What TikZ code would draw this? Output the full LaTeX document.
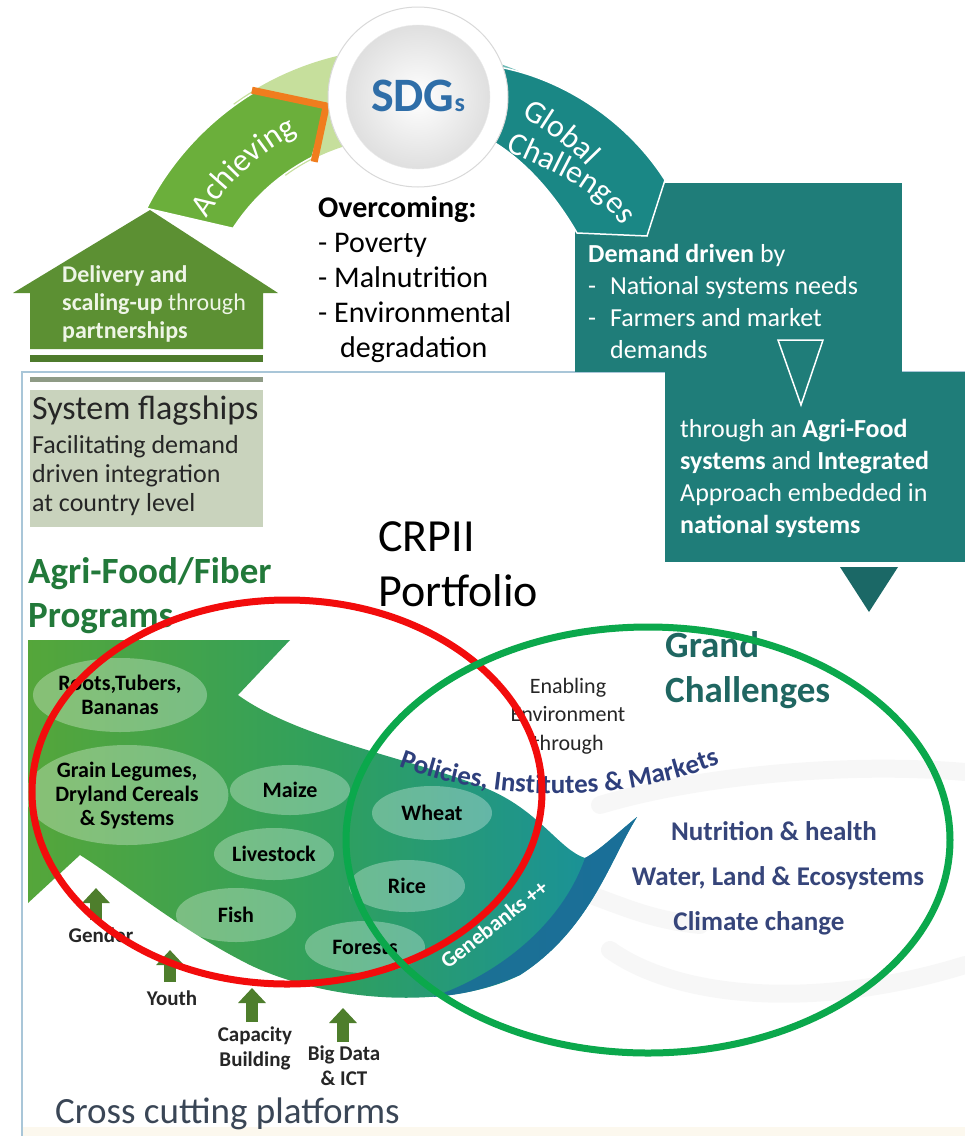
\documentclass[tikz,border=0pt]{standalone}
\usepackage{fontspec}
\setmainfont{Carlito}
\usepackage{tikz}
\tikzset{>=latex}
\usetikzlibrary{calc,positioning,shapes.geometric,arrows.meta,decorations.text}

\definecolor{houseGreen}{HTML}{5C9033}
\definecolor{barGreen}{HTML}{4E7B2C}
\definecolor{achGreen}{HTML}{6BAF3B}
\definecolor{paleGreen}{HTML}{C6DF9C}
\definecolor{chevOrange}{HTML}{F07D1E}
\definecolor{paleTeal}{HTML}{6DBAB6}
\definecolor{globTeal}{HTML}{1A8785}
\definecolor{boxTeal}{HTML}{1F7D79}
\definecolor{triTeal}{HTML}{1B6866}
\definecolor{sdgBlue}{HTML}{2F6EA8}
\definecolor{flagGrey}{HTML}{C9D3BD}
\definecolor{flagBar}{HTML}{8F9B86}
\definecolor{frameBlue}{HTML}{A9C6D8}
\definecolor{agriGreen}{HTML}{22793A}
\definecolor{grandTeal}{HTML}{1F6661}
\definecolor{navyText}{HTML}{2E3F7C}
\definecolor{gcText}{HTML}{36457A}
\definecolor{crossText}{HTML}{3A4656}
\definecolor{fishGreen}{HTML}{55A63A}
\definecolor{fishMid}{HTML}{2FA05E}
\definecolor{fishTeal}{HTML}{168FA2}
\definecolor{geneBlue}{HTML}{1B6C98}
\definecolor{liftGreen}{HTML}{4E7E2C}
\definecolor{ringRed}{HTML}{F20C0C}
\definecolor{ringGreen}{HTML}{0BA84C}
\definecolor{paleBeige}{HTML}{FCF8EE}
\definecolor{paleWhite}{HTML}{EEF5E6}

\newcommand{\fsz}[2]{\fontsize{#1}{#2}\selectfont}

\begin{document}
\begin{tikzpicture}[x=1pt,y=-1pt,
    txt/.style={inner sep=0pt, align=left, anchor=north west},
    oval/.style={ellipse, fill=white, fill opacity=.3, text opacity=1, inner sep=0pt, align=center, font=\bfseries\fsz{22}{24}},
    lift/.style={line width=12pt, draw=liftGreen, -{Triangle[length=15pt,width=27pt]}},
    lifttext/.style={inner sep=0pt, align=center, font=\bfseries\fsz{21}{25}, text=black!85},
    ring/.style={line width=7pt},
    fold/.style={line width=18pt, draw=gray, draw opacity=.06, line cap=round},
    gc/.style={font=\bfseries\fsz{27}{27}, text=gcText, inner sep=0pt, anchor=base}]

    \fill[white] (0,0) rectangle (965,1136);
    \useasboundingbox (0,0) rectangle (965,1136);

    % frame of the portfolio panel
    \fill[paleBeige] (22,1127) rectangle (965,1136);
    \draw[frameBlue, line width=1.5pt] (22,1136) -- (22,372) -- (965,372);

    % demand boxes
    \fill[boxTeal] (575,183) rectangle (902,372);
    \fill[boxTeal] (665,372) rectangle (965,562);
    \draw[white, line width=1.5pt] (778,340) -- (823,340) -- (801,405) -- cycle;
    \fill[triTeal] (840,567) -- (898,567) -- (869,612) -- cycle;
    \node[txt, font=\fsz{26}{32}, text=white] (demand) at (588,244) {\textbf{Demand driven} by\\-\hspace{14pt}National systems needs\\-\hspace{14pt}Farmers and market\\\hspace*{22pt}demands};
    \node[txt, font=\fsz{26}{32}, text=white] (approach) at (680,419) {through an \textbf{Agri-Food}\\\textbf{systems} and \textbf{Integrated}\\Approach embedded in\\\textbf{national systems}};

    % ring round the SDGs
    \coordinate (c) at (405,340);
    \fill[paleGreen] ($(c)+(-126:292)$) arc[start angle=-126, end angle=-88, radius=292] -- ($(c)+(-88:203)$) arc[start angle=-88, end angle=-126, radius=203] -- cycle;
    \fill[paleTeal] ($(c)+(-92:292)$) arc[start angle=-92, end angle=-66, radius=292] -- ($(c)+(-66:208)$) arc[start angle=-66, end angle=-92, radius=208] -- cycle;
    \fill[globTeal, draw=white, line width=1.5pt] (504,68) .. controls (570,82) and (630,125) .. (665,180) -- (647,236) -- (577,233) .. controls (555,195) and (525,160) .. (490,140) .. controls (478,118) and (484,90) .. (504,68) -- cycle;

    % delivery arrow
    \fill[houseGreen] (13,293) -- (150,210) -- (278,293) -- (263,293) -- (263,349) -- (30,349) -- (30,293) -- cycle;
    \fill[barGreen] (30,355) rectangle (263,362);
    \node[txt, font=\fsz{24}{28}, text=paleWhite] (delivery) at (62,265) {\textbf{Delivery and}\\\textbf{scaling-up} through\\\textbf{partnerships}};

    \fill[achGreen, draw=white, line width=1.5pt] ($(c)+(-153:290)$) arc[start angle=-153, end angle=-121, radius=290] -- ($(c)+(-108.6:245)$) -- ($(c)+(-117:205)$) arc[start angle=-117, end angle=-147, radius=205] -- cycle;
    \draw[chevOrange, line width=7pt] ($(c)+(-121.5:293)$) -- ($(c)+(-108.6:247)$) -- ($(c)+(-117:200)$);

    \path[decorate, decoration={text along path, text align=center, text={|\fsz{32}{32}\color{white}|Achieving}}] ($(c)+(-152:233)$) arc[start angle=-152, end angle=-114, radius=233];
    \path[decorate, decoration={text along path, text align=center, text={|\fsz{32}{32}\color{white}|Global}}] ($(c)+(-68:252)$) arc[start angle=-68, end angle=-38, radius=252];
    \path[decorate, decoration={text along path, text align=center, text={|\fsz{32}{32}\color{white}|Challenges}}] (499,147) .. controls (544,169) and (603,188) .. (625,233);

    % SDG sphere
    \node[circle, minimum size=180pt, fill=white, draw=gray!30, line width=1pt] (sdgring) at (418,97) {};
    \shade[inner color=white, outer color=gray!25, draw=gray!15] (sdgring.center) circle[radius=72];
    \node[font=\bfseries\fsz{48}{48}, text=sdgBlue, inner sep=0pt, anchor=base] (sdg) at (418,111) {SDG{\fsz{26}{26}s}};

    \node[txt, font=\fsz{30}{35}] (overcome) at (318,196) {\textbf{Overcoming:}\\- Poverty\\- Malnutrition\\- Environmental\\\hspace*{22pt}degradation};

    % system flagships
    \fill[flagBar] (30,377) rectangle (263,382);
    \fill[flagGrey] (30,390) rectangle (263,527);
    \node[txt, font=\fsz{34}{34}, text=black!85] (flagtitle) at (32,396) {System flagships};
    \node[txt, font=\fsz{26}{29}, text=black!85] (flagtext) at (32,435) {Facilitating demand\\driven integration\\at country level};

    \node[txt, font=\fsz{46}{55}] (crp) at (378,521) {CRPII\\Portfolio};
    \node[txt, font=\bfseries\fsz{37}{44}, text=agriGreen] (agri) at (28,557) {Agri-Food/Fiber\\Programs};
    \node[txt, font=\bfseries\fsz{37}{45}, text=grandTeal] (grand) at (665,631) {Grand\\Challenges};

    % white fold on the right
    \draw[fold] (600,805) .. controls (700,775) and (850,762) .. (965,772);
    \draw[fold] (585,893) .. controls (620,905) and (650,920) .. (700,925);
    \draw[fold] (610,950) .. controls (680,1000) and (820,1010) .. (965,965);

    % programs wave
    \shade[left color=fishGreen, right color=fishTeal, middle color=fishMid] (28,640) -- (290,640) -- (238,695) .. controls (300,740) and (420,760) .. (490,790) .. controls (540,812) and (560,850) .. (585,858) .. controls (600,850) and (615,835) .. (637,817) .. controls (610,860) and (590,930) .. (520,975) .. controls (450,1010) and (330,1003) .. (250,965) .. controls (180,930) and (120,880) .. (80,855) -- (28,903) -- cycle;
    \fill[geneBlue, opacity=.9] (585,858) .. controls (600,850) and (615,835) .. (637,817) .. controls (610,860) and (590,930) .. (520,975) .. controls (485,990) and (460,995) .. (432,997) .. controls (490,978) and (560,930) .. (585,858) -- cycle;
    \node[rotate=38, font=\bfseries\fsz{22}{22}, text=white, inner sep=0pt] (gene) at (494,924) {Genebanks ++};

    \node[oval, minimum width=166pt, minimum height=74pt] (roots) at (120,695) {Roots,Tubers,\\Bananas};
    \node[oval, minimum width=174pt, minimum height=100pt] (legumes) at (127,795) {Grain Legumes,\\Dryland Cereals\\\& Systems};
    \node[oval, minimum width=120pt, minimum height=50pt] (maize) at (290,790) {Maize};
    \node[oval, minimum width=120pt, minimum height=52pt] (livestock) at (274,854) {Livestock};
    \node[oval, minimum width=120pt, minimum height=54pt] (fish) at (236,915) {Fish};
    \node[oval, minimum width=120pt, minimum height=52pt] (forests) at (365,947) {Forests};
    \node[oval, minimum width=120pt, minimum height=54pt] (wheat) at (432,813) {Wheat};
    \node[oval, minimum width=116pt, minimum height=52pt] (rice) at (407,886) {Rice};

    \node[inner sep=0pt, align=center, anchor=north, font=\fsz{22}{28.5}, text=black!85] (enabling) at (568,678) {Enabling\\Environment\\through};
    \path[decorate, decoration={text along path, text align=center, text={|\bfseries\fsz{27}{27}\color{navyText}|Policies, Institutes {\&} Markets}}] (378,758) .. controls (470,800) and (620,812) .. (740,755);

    \node[gc] (nutrition) at (774,840) {Nutrition \& health};
    \node[gc] (water) at (778,885) {Water, Land \& Ecosystems};
    \node[gc] (climate) at (759,930) {Climate change};

    % cross cutting platforms
    \node[lifttext, anchor=base] (gender) at (101,942) {Gender};
    \node[lifttext, anchor=base] (youth) at (172,1005) {Youth};
    \node[lifttext, anchor=north] (capacity) at (255,1027) {Capacity\\Building};
    \node[lifttext, anchor=north] (bigdata) at (344,1046) {Big Data\\\& ICT};
    \draw[lift] ([xshift=-5pt,yshift=7pt]gender.north) -- ++(0,-32);
    \draw[lift] ([xshift=-2pt,yshift=8pt]youth.north) -- ++(0,-32);
    \draw[lift] ([xshift=-3pt,yshift=5pt]capacity.north) -- ++(0,-34);
    \draw[lift] ([xshift=-1pt,yshift=4pt]bigdata.north) -- ++(0,-34);
    \node[txt, anchor=base west, font=\fsz{37}{37}, text=crossText] (cross) at (55,1123) {Cross cutting platforms};

    % overlap rings
    \draw[ring, ringRed] (287,792) ellipse[x radius=255, y radius=192];
    \draw[ring, ringGreen] (648,840) ellipse[x radius=302, y radius=213];
\end{tikzpicture}
\end{document}
